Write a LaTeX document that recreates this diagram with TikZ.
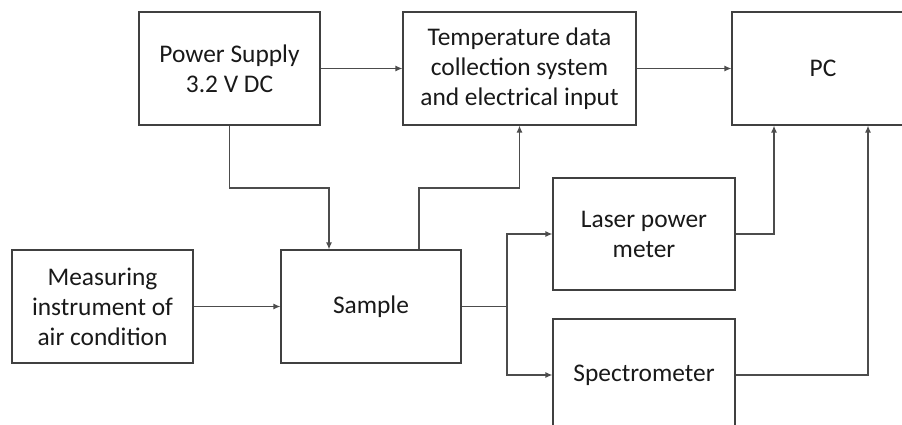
\documentclass[tikz,border=0pt]{standalone}
\usepackage{fontspec}
\setmainfont{Carlito}
\usetikzlibrary{arrows.meta}
\tikzset{%
    every node/.style={draw=black!75, line width=1.2pt, align=center,
        text=black!90, font=\fontsize{25.4}{30}\selectfont},
    block/.style={rectangle, minimum width=181pt, minimum height=113pt},
    wire/.style={draw=black!70, line width=1.2pt},
    feed/.style={wire, -{Latex[length=7pt,width=6pt]}}
}

\begin{document}
\begin{tikzpicture}[x=1pt, y=-1pt]
  \useasboundingbox (0,0) rectangle (902,425);
  \clip (0,0) rectangle (902,425);

  \node (ps) [block] at (229.5, 68.5) {Power Supply\\3.2 V DC};
  \node (tdc) [block, minimum width=233pt] at (519.5, 68.5)
    {Temperature data\\collection system\\and electrical input};
  \node (pc) [block, minimum width=182pt] at (823, 68.5) {PC};
  \node (mi) [block] at (102.5, 306.5)
    {Measuring\\instrument of\\air condition};
  \node (sample) [block, minimum width=180pt] at (371, 306.5) {Sample};
  \node (lpm) [block, minimum width=182pt, minimum height=112pt]
    at (644, 234) {Laser power\\meter};
  \node (spec) [block, minimum width=182pt, minimum height=112pt]
    at (644, 375) {Spectrometer};

  \coordinate (split) at (507, 306.5);

  \draw [feed] (ps) -- (tdc);
  \draw [feed] (tdc) -- (pc);
  \draw [feed] (mi) -- (sample);
  \draw [feed] (ps.south) |- (329, 188) -- ([xshift=-42pt]sample.north);
  \draw [feed] ([xshift=48pt]sample.north) |- (519.5, 188) -- (tdc.south);
  \draw [wire] (sample.east) -- (split);
  \draw [feed] (split) |- (lpm.west);
  \draw [feed] (split) |- (spec.west);
  \draw [feed] (lpm.east) -| ([xshift=-49pt]pc.south);
  \draw [feed] (spec.east) -| ([xshift=45pt]pc.south);
\end{tikzpicture}
\end{document}
